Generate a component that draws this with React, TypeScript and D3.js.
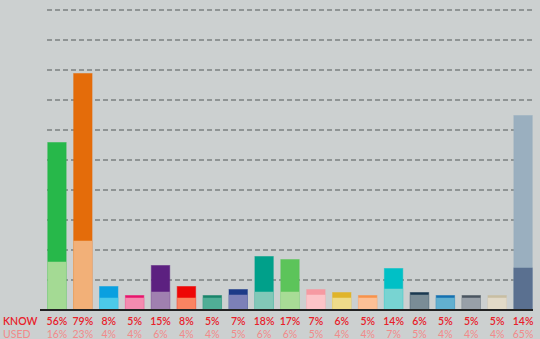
import React from "react";
import * as d3 from "d3";

const know = [56, 79, 8, 5, 15, 8, 5, 7, 18, 17, 7, 6, 5, 14, 6, 5, 5, 5, 14];
const used = [16, 23, 4, 4, 6, 4, 4, 5, 6, 6, 5, 4, 4, 7, 5, 4, 4, 4, 65];
const knowColors = [
  "#27b84a", "#e46c0a", "#0aa0e0", "#e8146c", "#5c2080", "#ee0606", "#18846a", "#1c3a88",
  "#00a08a", "#5cc45a", "#f69aa2", "#e0b42a", "#f8924a", "#00c0c6", "#1a3850", "#1470b0",
  "#4a5560", "#c8bea2", "#5a7090",
];
const usedColors = [
  "#a4da94", "#f2b078", "#4ccaea", "#f48cb0", "#a080b0", "#fa8462", "#50ae96", "#7c80b8",
  "#82c8b8", "#a8dc96", "#fcc4c8", "#eedb8a", "#fcc096", "#78d4d2", "#7a8c96", "#62b0d0",
  "#98a0a8", "#e2dac8", "#9aafbf",
];
const gridTicks = [10, 20, 30, 40, 50, 60, 70, 80, 90, 100];

const W = 540;
const H = 339;

export default function App() {
  const idx = know.map((_, i) => i);
  const x = d3.scaleBand<number>().domain(idx).range([44, 536]).paddingInner(0.25).paddingOuter(0.125);
  const y = d3.scaleLinear().domain([0, 100]).range([310, 10]);
  const bw = x.bandwidth();
  return (
    <svg
      width={W}
      height={H}
      style={{ position: "absolute", left: 0, top: 0, display: "block" }}
      fontFamily="Lato, 'Open Sans', sans-serif"
    >
      <rect x={0} y={0} width={W} height={H} fill="#ccd0d0" />
      {gridTicks.map((t) => (
        <line
          key={t}
          x1={47}
          x2={533}
          y1={y(t)}
          y2={y(t)}
          stroke="#8f9494"
          strokeWidth={2}
          strokeDasharray="5,3"
        />
      ))}
      {idx.map((i) => {
        const k = know[i];
        const u = used[i];
        const big = Math.max(k, u);
        const small = Math.min(k, u);
        const bigColor = k >= u ? knowColors[i] : usedColors[i];
        const smallColor = k >= u ? usedColors[i] : knowColors[i];
        const x0 = x(i) as number;
        return (
          <g key={i}>
            <rect
              x={x0 + 0.5}
              y={y(big) + 0.5}
              width={bw - 1}
              height={y(0) - y(big) - 0.5}
              fill={bigColor}
              stroke={bigColor}
              strokeOpacity={0.5}
              strokeWidth={1}
            />
            <rect
              x={x0 + 0.5}
              y={y(small)}
              width={bw - 1}
              height={y(0) - y(small)}
              fill={smallColor}
              stroke={smallColor}
              strokeOpacity={0.5}
              strokeWidth={1}
            />
          </g>
        );
      })}
      <line x1={40} x2={533} y1={y(0)} y2={y(0)} stroke="#222" strokeWidth={2} />
      <text x={3} y={325} fill="#e8202a" fontSize={10.5} fontWeight={600}>KNOW</text>
      <text x={3} y={337.5} fill="#f28a8a" fontSize={10.5}>USED</text>
      {idx.map((i) => (
        <g key={"l" + i}>
          <text
            x={(x(i) as number) + bw / 2}
            y={325}
            textAnchor="middle"
            fill="#e8202a"
            fontSize={10.5}
            fontWeight={600}
          >
            {know[i]}%
          </text>
          <text
            x={(x(i) as number) + bw / 2}
            y={337.5}
            textAnchor="middle"
            fill="#f28a8a"
            fontSize={10.5}
          >
            {used[i]}%
          </text>
        </g>
      ))}
    </svg>
  );
}
